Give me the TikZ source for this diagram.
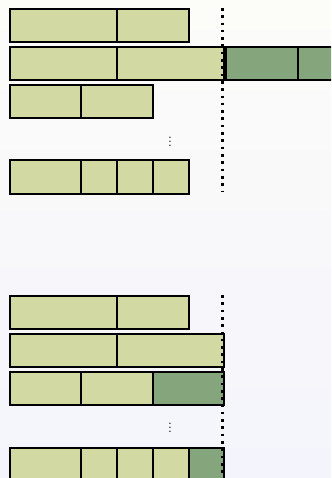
\documentclass[tikz,border=0pt]{standalone}
\usetikzlibrary{positioning}
\definecolor{lightg}{RGB}{210,217,162}
\definecolor{darkg}{RGB}{133,165,124}
\definecolor{bgtop}{RGB}{252,252,249}
\definecolor{bgbot}{RGB}{244,244,252}
\tikzset{
  cell/.style={draw=black, line width=2bp, fill=lightg, inner sep=0pt, anchor=north west, minimum height=33bp, minimum width=#1*35.8bp},
  cellx/.style={cell=#1, fill=darkg},
  cutline/.style={line width=2.6bp, dash pattern=on 2.6bp off 4.7bp},
  vdot/.style={inner sep=0pt, font=\Large, text=black}
}
\begin{document}
\begin{tikzpicture}[x=1bp,y=-1bp]
\useasboundingbox (0,0) rectangle (331,478);
\shade[top color=bgtop, bottom color=bgbot] (0,0) rectangle (331,478);
\clip (0,0) rectangle (331,478);
% top block
\node[cell=3] (a11) at (8.5,8.5) {};
\node[cell=2] (a12) at (115.9,8.5) {};
\node[cell=3] (a21) at (8.5,46.5) {};
\node[cell=3] (a22) at (115.9,46.5) {};
\node[cellx=2] (a23) at (225,46.5) {};
\node[cellx=2] (a24) at (296.6,46.5) {};
\node[cell=2] (a31) at (8.5,84.5) {};
\node[cell=2] (a32) at (80.1,84.5) {};
\node[vdot] (ad) at (170,138.5) {$\vdots$};
\node[cell=2] (a41) at (8.5,159.5) {};
\node[cell=1] (a42) at (80.1,159.5) {};
\node[cell=1] (a43) at (115.9,159.5) {};
\node[cell=1] (a44) at (151.7,159.5) {};
\coordinate (at) at (222.5,8);
\coordinate (ab) at (222.5,192);
\draw[cutline] (at) -- (ab);
% bottom block
\node[cell=3] (b11) at (8.5,294.5) {};
\node[cell=2] (b12) at (115.9,294.5) {};
\node[cell=3] (b21) at (8.5,332.5) {};
\node[cell=3] (b22) at (115.9,332.5) {};
\node[cell=2] (b31) at (8.5,370.5) {};
\node[cell=2] (b32) at (80.1,370.5) {};
\node[cellx=2] (b33) at (151.7,370.5) {};
\node[vdot] (bd) at (170,424.5) {$\vdots$};
\node[cell=2] (b41) at (8.5,446.5) {};
\node[cell=1] (b42) at (80.1,446.5) {};
\node[cell=1] (b43) at (115.9,446.5) {};
\node[cell=1] (b44) at (151.7,446.5) {};
\node[cellx=1] (b45) at (187.5,446.5) {};
\coordinate (bt) at (222.5,295);
\coordinate (bb) at (222.5,478);
\draw[cutline] (bt) -- (bb);
\end{tikzpicture}
\end{document}
